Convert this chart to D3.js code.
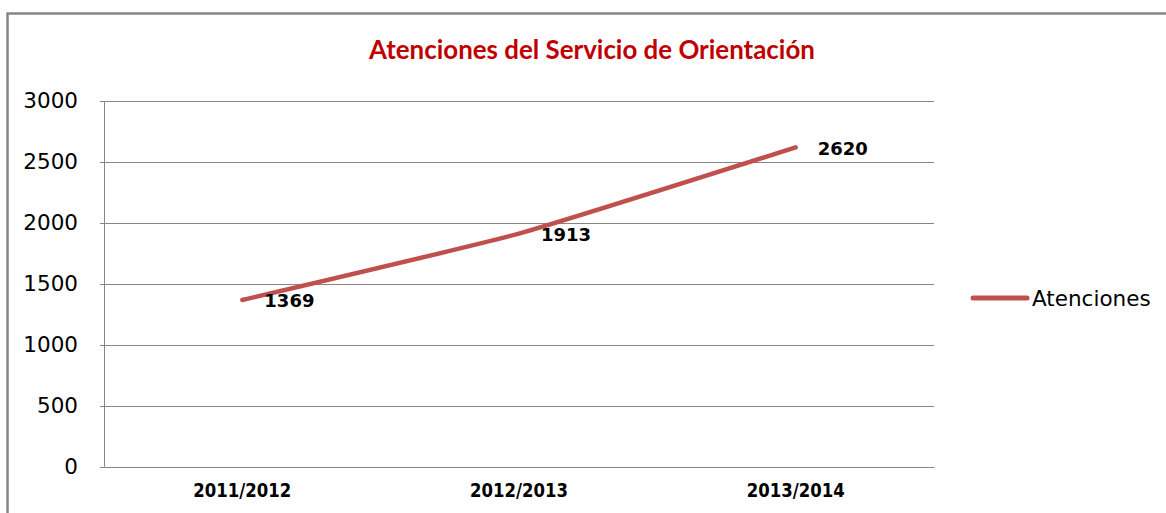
<!DOCTYPE html>
<html>
<head>
<meta charset="utf-8">
<script src="https://cdn.jsdelivr.net/npm/d3@7"></script>
<style>
  html, body { margin: 0; padding: 0; background: #fff; }
  svg { display: block; }
</style>
</head>
<body>
<svg id="chart" width="1166" height="513"></svg>
<script>
const title = "Atenciones del Servicio de Orientación";
const categories = ["2011/2012", "2012/2013", "2013/2014"];
const seriesName = "Atenciones";
const values = [1369, 1913, 2620];
const yTicks = [0, 500, 1000, 1500, 2000, 2500, 3000];

const svg = d3.select("#chart");
const plot = { left: 104, right: 934, top: 101, bottom: 467 };

// outer chart border
svg.append("rect")
  .attr("x", 7.5).attr("y", 13.5)
  .attr("width", 1170).attr("height", 520)
  .attr("fill", "#fff")
  .attr("stroke", "#868686").attr("stroke-width", 2.5);

const x = d3.scaleBand().domain(categories).range([plot.left, plot.right]).padding(0);
const y = d3.scaleLinear().domain([0, 3000]).range([plot.bottom, plot.top]);
const cx = d => x(d) + x.bandwidth() / 2;

// title
const t = svg.append("text")
  .attr("x", 592).attr("y", 59)
  .attr("text-anchor", "middle")
  .attr("fill", "#C00000")
  .attr("font-family", "Lato, 'Open Sans', sans-serif")
  .attr("font-weight", "bold")
  .attr("font-size", 22)
  .text(title);
const tw = t.node().getComputedTextLength();
if (tw > 0) t.attr("font-size", 22 * 446 / tw);

// y axis
const yAxis = d3.axisLeft(y).tickValues(yTicks).tickSize(4).tickPadding(22).tickFormat(d3.format("d"));
const gy = svg.append("g").attr("transform", `translate(${plot.left},0)`).call(yAxis);
gy.select(".domain").attr("stroke", "#868686");
gy.selectAll(".tick line").attr("stroke", "#868686");
gy.selectAll(".tick text")
  .attr("fill", "#000")
  .attr("font-family", "'DejaVu Sans', sans-serif")
  .attr("font-size", 21.5);

// gridlines
svg.append("g").selectAll("line").data(yTicks.filter(d => d > 0)).join("line")
  .attr("x1", plot.left).attr("x2", plot.right)
  .attr("y1", d => Math.round(y(d)) + 0.5).attr("y2", d => Math.round(y(d)) + 0.5)
  .attr("stroke", "#868686").attr("stroke-width", 1);

// x axis
const xAxis = d3.axisBottom(x).tickSize(0).tickPadding(20);
const gx = svg.append("g").attr("transform", `translate(0,${plot.bottom})`).call(xAxis);
gx.select(".domain").attr("stroke", "#868686");
gx.selectAll(".tick text")
  .attr("fill", "#000")
  .attr("font-family", "'DejaVu Sans Condensed', 'DejaVu Sans', sans-serif")
  .attr("font-weight", "bold")
  .attr("font-size", 20)
  .attr("dy", "0.5em")
  .each(function() {
    const w = this.getComputedTextLength();
    if (w > 0) d3.select(this).attr("transform", `scale(${98 / w},1)`);
  });

// line
const line = d3.line()
  .x((d, i) => cx(categories[i]))
  .y(d => y(d))
  .curve(d3.curveCardinal.tension(0.6));
svg.append("path")
  .datum(values)
  .attr("d", line)
  .attr("fill", "none")
  .attr("stroke", "#C0504D")
  .attr("stroke-width", 4.5)
  .attr("stroke-linecap", "round");

// data labels
svg.append("g").selectAll("text").data(values).join("text")
  .attr("x", (d, i) => cx(categories[i]) + 22)
  .attr("y", d => y(d) + 1)
  .attr("dominant-baseline", "central")
  .attr("font-family", "'DejaVu Sans', sans-serif")
  .attr("font-weight", "bold")
  .attr("font-size", 18)
  .attr("fill", "#000")
  .text(d => d);

// legend
const lg = svg.append("g");
lg.append("line")
  .attr("x1", 973).attr("x2", 1027).attr("y1", 298).attr("y2", 298)
  .attr("stroke", "#C0504D").attr("stroke-width", 5).attr("stroke-linecap", "round");
lg.append("text")
  .attr("x", 1032).attr("y", 298)
  .attr("dominant-baseline", "central")
  .attr("font-family", "'DejaVu Sans', sans-serif")
  .attr("font-size", 21.5)
  .attr("fill", "#000")
  .text(seriesName);
</script>
</body>
</html>
